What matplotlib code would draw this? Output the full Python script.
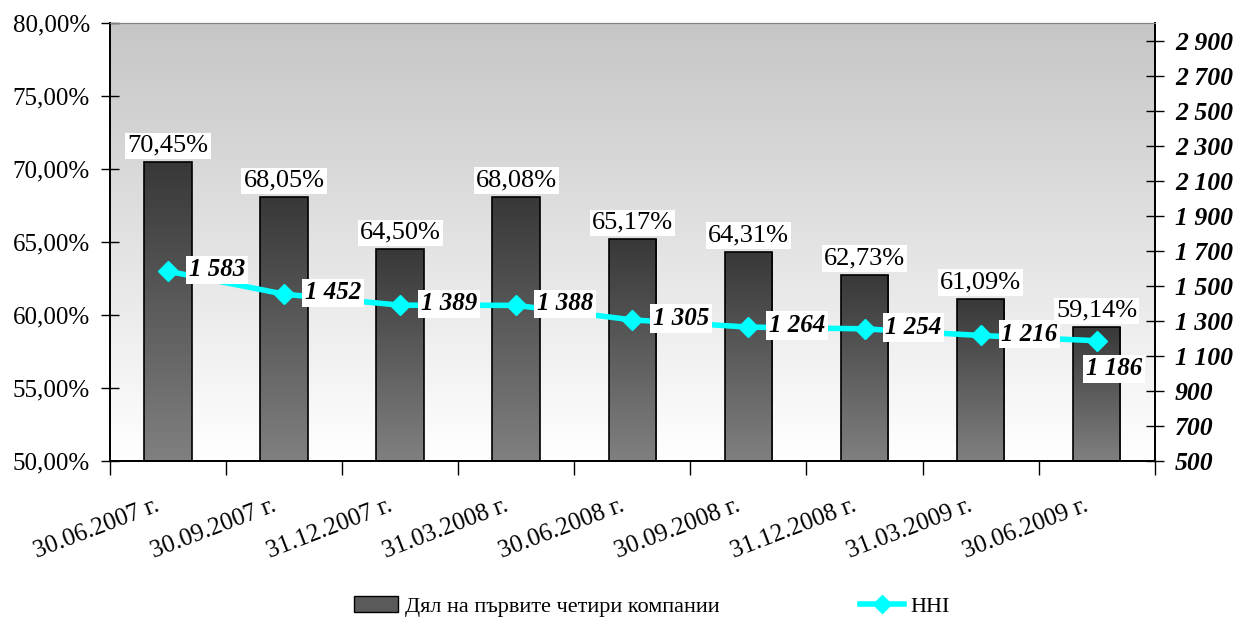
import numpy as np
import matplotlib.pyplot as plt
from matplotlib.lines import Line2D
from matplotlib.patches import Patch
from matplotlib.colors import LinearSegmentedColormap
from matplotlib.ticker import FuncFormatter
from matplotlib.transforms import ScaledTranslation

dates = ["30.06.2007 г.", "30.09.2007 г.", "31.12.2007 г.", "31.03.2008 г.", "30.06.2008 г.",
         "30.09.2008 г.", "31.12.2008 г.", "31.03.2009 г.", "30.06.2009 г."]
share = [70.45, 68.05, 64.50, 68.08, 65.17, 64.31, 62.73, 61.09, 59.14]
hhi = [1583, 1452, 1389, 1388, 1305, 1264, 1254, 1216, 1186]

plt.rcParams['font.family'] = ['Liberation Serif', 'DejaVu Serif']

fig = plt.figure(figsize=(12.35, 6.22), dpi=100)
ax = fig.add_axes([0.089, 0.259, 0.846, 0.704])
ax2 = ax.twinx()

x = np.arange(len(dates))

# background gradient: grey at top, white at bottom
bg_cmap = LinearSegmentedColormap.from_list('bg', ['#ffffff', '#c6c6c6'])
ax.imshow(np.linspace(0, 1, 256).reshape(-1, 1), extent=[-0.5, len(dates) - 0.5, 50, 80],
          aspect='auto', cmap=bg_cmap, zorder=0, origin='lower')

bar_cmap = LinearSegmentedColormap.from_list('bar', ['#808080', '#383838'])
bars = ax.bar(x, share, width=0.41, color='none', edgecolor='black', linewidth=1.2, zorder=3)
for b in bars:
    im = ax.imshow(np.linspace(0, 1, 256).reshape(-1, 1),
                   extent=[b.get_x(), b.get_x() + b.get_width(), 50, b.get_height()],
                   aspect='auto', cmap=bar_cmap, origin='lower', zorder=2)
    im.set_clip_path(b)
ax.set_xlim(-0.5, len(dates) - 0.5)
ax.set_ylim(50, 80)
ax2.set_ylim(500, 3000)

for xi, v in zip(x, share):
    ax.annotate(f"{v:.2f}%".replace('.', ','), (xi, v), xytext=(0, 4), textcoords='offset points',
                ha='center', va='bottom', fontsize=19, zorder=5,
                bbox=dict(facecolor='white', edgecolor='none', pad=1.5))

ax2.plot(x, hhi, color='#00ffff', linewidth=4, marker='D', markersize=10, zorder=4)
for i, (xi, v) in enumerate(zip(x, hhi)):
    lbl = f"{v:,}".replace(',', ' ')
    if i == len(hhi) - 1:
        off, va = (-8, -12), 'top'
    else:
        off, va = (15, 1), 'center'
    ax2.annotate(lbl, (xi, v), xytext=off, textcoords='offset points', ha='left', va=va,
                 fontsize=18, fontweight='bold', fontstyle='italic', zorder=6,
                 bbox=dict(facecolor='white', edgecolor='none', pad=2))

ax.set_yticks(np.arange(50, 81, 5))
ax.yaxis.set_major_formatter(FuncFormatter(lambda v, p: f"{v:.2f}%".replace('.', ',')))
ax.tick_params(axis='y', direction='inout', length=13, width=1, labelsize=18, pad=8)
ax.set_xticks(np.arange(-0.5, len(dates), 1))
ax.set_xticklabels([])
ax.set_xticks(x, minor=True)
ax.set_xticklabels(dates, minor=True, rotation=21, ha='right', va='top', rotation_mode='anchor', fontsize=18)
ax.tick_params(axis='x', which='major', direction='out', length=10, width=1)
ax.tick_params(axis='x', which='minor', length=0, pad=24)
shift = ScaledTranslation(-13 / 100, 0, fig.dpi_scale_trans)
for t in ax.get_xticklabels(minor=True):
    t.set_transform(t.get_transform() + shift)

ax2.set_yticks(np.arange(500, 3000, 200))
ax2.yaxis.set_major_formatter(FuncFormatter(lambda v, p: f"{int(v):,}".replace(',', ' ')))
ax2.tick_params(axis='y', direction='inout', length=13, width=1, labelsize=18.5, pad=8)
for t in ax2.get_yticklabels():
    t.set_fontweight('bold')
    t.set_fontstyle('italic')

for a in (ax, ax2):
    a.spines['top'].set_color('#808080')
    a.spines['left'].set_linewidth(1.3)
    a.spines['right'].set_linewidth(1.3)
    a.spines['bottom'].set_linewidth(1.3)
ax2.patch.set_visible(False)

handles = [Patch(facecolor='#5a5a5a', edgecolor='black', label='Дял на първите четири компании'),
           Line2D([0], [0], color='#00ffff', linewidth=4, marker='D', markersize=9, label='HHI')]
fig.legend(handles=handles, loc='center', bbox_to_anchor=(0.528, 0.025), ncol=2, frameon=False,
           fontsize=16, handlelength=2, columnspacing=6.3, handletextpad=0.3)

fig.savefig('out.png', dpi=100)
